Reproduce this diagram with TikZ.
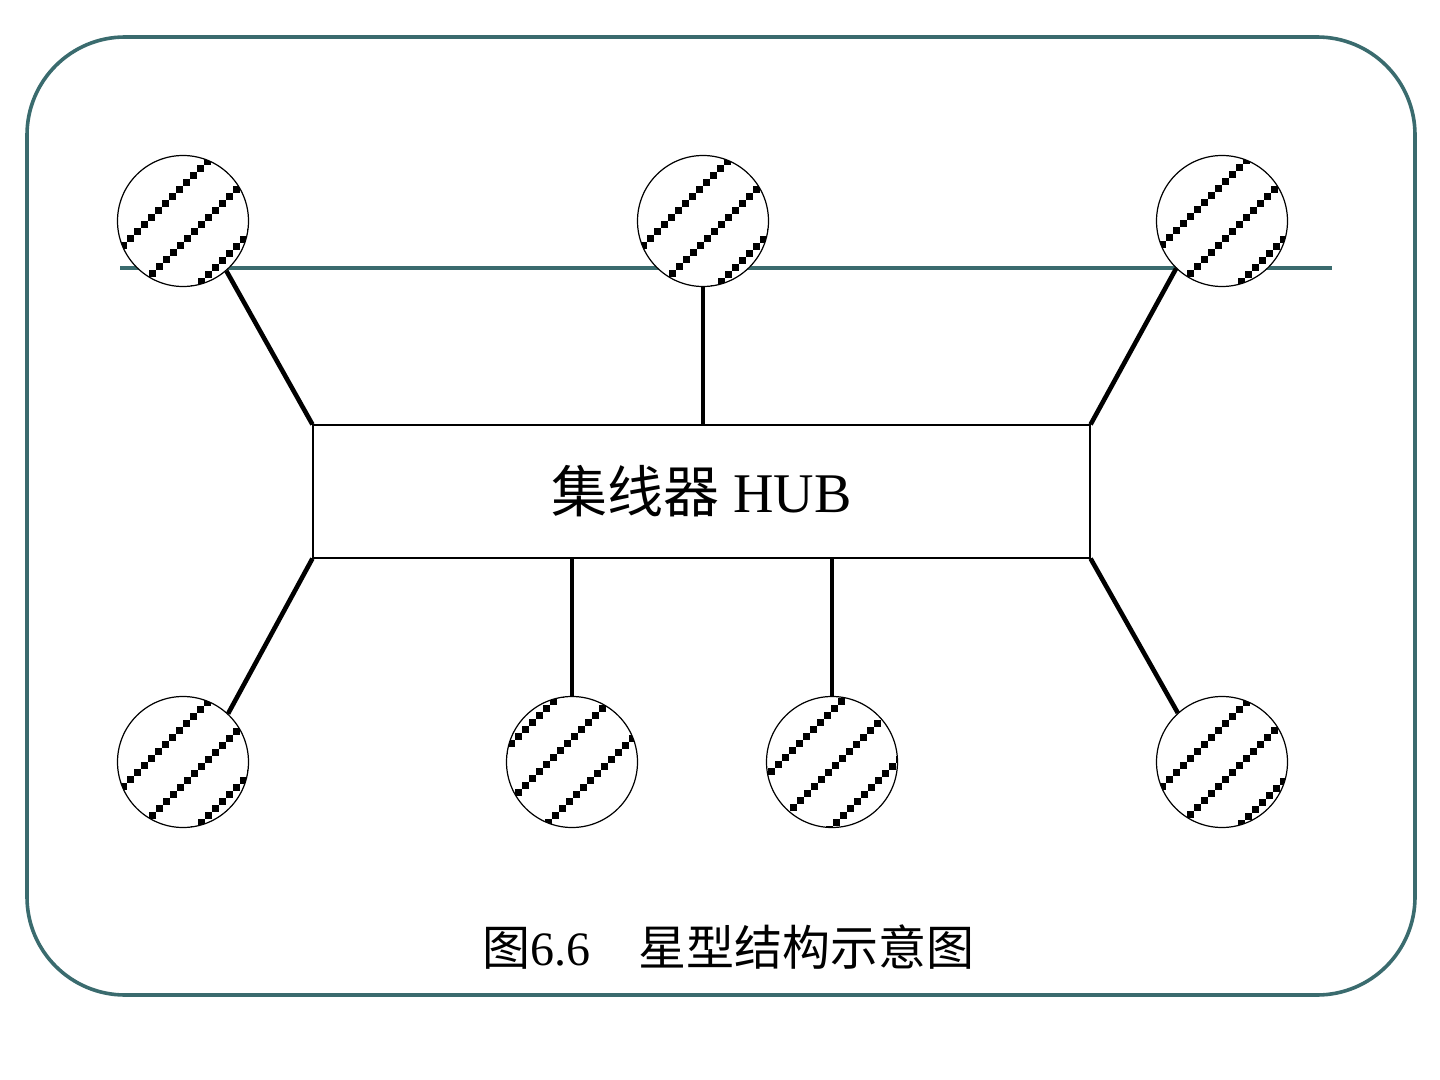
\documentclass[tikz,border=0pt]{standalone}
\usepackage{fontspec}
\setmainfont{Liberation Serif}
\newfontfamily\cjk{Noto Sans CJK SC}
\usetikzlibrary{positioning}
\definecolor{slideteal}{RGB}{58,107,110}

\begin{document}
\begin{tikzpicture}[x=0.5pt,y=-0.5pt]
\tikzset{frame/.style={draw=slideteal,line width=1.8pt,rounded corners=49pt}}
\tikzset{bus/.style={draw=slideteal,line width=2.4pt}}
\tikzset{station/.style={circle,minimum size=65.5pt,inner sep=0pt,draw,line width=0.6pt,fill=white,
  path picture={\foreach \hoff in {#1}{\foreach \hpos in {-98,-91,...,98}{
    \fill[black] ([shift={({\hoff/2+(\hpos)-3.5},{\hoff/2-(\hpos)-3.5})}]path picture bounding box.center) rectangle +(7,7);}}}}}
\tikzset{hubbox/.style={rectangle,minimum width=388.5pt,minimum height=66.5pt,draw,line width=0.6pt,fill=white,
  font=\fontsize{28pt}{34pt}\selectfont}}
\tikzset{link/.style={line width=2.3pt}}
\useasboundingbox (0,0) rectangle (1440,1080);
\draw[frame] (27,37) rectangle (1415,995);
\coordinate (busW) at (120,268);
\coordinate (busE) at (1332,268);
\draw[bus] (busW) -- (busE);
\node[station={-35,22,79}] (top1) at (183,221) {};
\node[station={-35,22,79}] (top2) at (703,221) {};
\node[station={-36,21,80}] (top3) at (1222,221) {};
\node[station={-35,22,79}] (bot1) at (183,762) {};
\node[station={-80,-23,36}] (bot2) at (572,762) {};
\node[station={-52,6,64}] (bot3) at (832,762) {};
\node[station={-36,21,80}] (bot4) at (1222,762) {};
\node[hubbox] (hub) at (701.5,491.5) {{\cjk 集线器} HUB};
\draw[link] (top1.-49) -- (hub.north west);
\draw[link] (top2) -- (top2 |- hub.north);
\draw[link] (top3.-134) -- (hub.north east);
\draw[link] (hub.south west) -- (bot1.47);
\draw[link] (hub.south -| bot2) -- (bot2);
\draw[link] (hub.south -| bot3) -- (bot3);
\draw[link] (hub.south east) -- (bot4.132);
\node[font=\fontsize{24pt}{28pt}\selectfont] (caption) at (728,947) {{\cjk 图}6.6{\cjk 　星型结构示意图}};
\end{tikzpicture}
\end{document}
